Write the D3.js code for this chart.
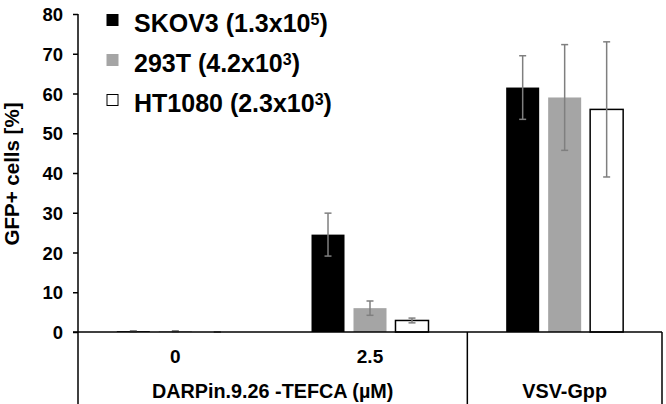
<!DOCTYPE html>
<html>
<head>
<meta charset="utf-8">
<script src="https://cdn.jsdelivr.net/npm/d3@7"></script>
<style>
  html, body { margin: 0; padding: 0; background: #fff; }
  svg { display: block; }
  text { font-family: "Liberation Sans", Arial, sans-serif; font-weight: bold; fill: #000; }
</style>
</head>
<body>
<svg id="chart" width="666" height="404"></svg>
<script>
// ---- data ----
const categories = ["0", "2.5", "VSV-Gpp"];
const categoryLabels = ["0", "2.5", ""];
const groupLabels = ["DARPin.9.26 -TEFCA (µM)", "VSV-Gpp"];
const groupSpans = [2, 1];
const seriesNames = ["SKOV3", "293T", "HT1080"];
const seriesTiters = [["1.3x10", "5"], ["4.2x10", "3"], ["2.3x10", "3"]];
const skov3 = [0.2, 24.5, 61.5];
const skov3Err = [0.1, 5.4, 8.0];
const t293 = [0.2, 6.0, 59.0];
const t293Err = [0.1, 1.8, 13.3];
const ht1080 = [0.0, 2.9, 56.0];
const ht1080Err = [0.0, 0.6, 17.0];
const yTicks = [0, 10, 20, 30, 40, 50, 60, 70, 80];
const yTitle = "GFP+ cells [%]";

const seriesValues = [skov3, t293, ht1080];
const seriesErrors = [skov3Err, t293Err, ht1080Err];
const fills = ["#000000", "#a5a5a5", "#ffffff"];
const strokes = ["#000000", "#a5a5a5", "#000000"];

const svg = d3.select("#chart");
const mLeft = 78, mRight = 662, mTop = 14, zeroY = 332, mBottom = 404;

const x0 = d3.scaleBand().domain(categories).range([mLeft, mRight]).padding(0);
const x1 = d3.scaleBand().domain(seriesNames).range([0, x0.bandwidth()])
  .paddingInner(0.214).paddingOuter(0.925);
const y = d3.scaleLinear().domain([0, 80]).range([zeroY, mTop]);

// bars
seriesNames.forEach((s, si) => {
  const g = svg.append("g");
  g.selectAll("rect").data(categories).join("rect")
    .attr("x", (c) => x0(c) + x1(s))
    .attr("y", (c, i) => y(seriesValues[si][i]))
    .attr("width", x1.bandwidth())
    .attr("height", (c, i) => y(0) - y(seriesValues[si][i]))
    .attr("fill", fills[si])
    .attr("stroke", strokes[si])
    .attr("stroke-width", si === 2 ? 1.5 : 0);
});

// error bars
seriesNames.forEach((s, si) => {
  categories.forEach((c, i) => {
    const v = seriesValues[si][i], e = seriesErrors[si][i];
    const cx = x0(c) + x1(s) + x1.bandwidth() / 2;
    const g = svg.append("g").attr("stroke", "#7f7f7f").attr("stroke-width", 1.5);
    g.append("line").attr("x1", cx).attr("x2", cx).attr("y1", y(v + e)).attr("y2", y(Math.max(0, v - e)));
    [v + e, v - e].forEach(t => {
      g.append("line").attr("x1", cx - 3.5).attr("x2", cx + 3.5).attr("y1", y(t)).attr("y2", y(t));
    });
  });
});

// y axis
const yAxis = d3.axisLeft(y).tickValues(yTicks).tickSize(5).tickPadding(10).tickFormat(d3.format("d"));
const ya = svg.append("g").attr("transform", `translate(${mLeft},0)`).call(yAxis);
ya.select(".domain").remove();
ya.selectAll(".tick line").attr("stroke", "#000").attr("stroke-width", 1.5);
ya.selectAll(".tick text").style("font-size", "18.5px").attr("dy", "0.36em");
svg.append("line").attr("x1", mLeft).attr("x2", mLeft).attr("y1", mTop).attr("y2", mBottom)
  .attr("stroke", "#000").attr("stroke-width", 1.5);

// x axis baseline
svg.append("line").attr("x1", mLeft - 5).attr("x2", mRight).attr("y1", zeroY).attr("y2", zeroY)
  .attr("stroke", "#000").attr("stroke-width", 1.5);

// category labels
const xAxis = d3.axisBottom(x0).tickSize(0).tickPadding(0).tickFormat((d, i) => categoryLabels[i]);
const xa = svg.append("g").attr("transform", `translate(0,${zeroY})`).call(xAxis);
xa.select(".domain").remove();
xa.selectAll(".tick text").style("font-size", "19px").attr("y", 31).attr("dy", 0);

// group labels and dividers
let idx = 0;
const dividers = [];
groupLabels.forEach((gl, gi) => {
  const start = x0(categories[idx]);
  const endCat = categories[idx + groupSpans[gi] - 1];
  const end = x0(endCat) + x0.bandwidth();
  svg.append("text").attr("x", (start + end) / 2).attr("y", 398)
    .attr("text-anchor", "middle").style("font-size", "19.8px").text(gl);
  dividers.push(end);
  idx += groupSpans[gi];
});
dividers.forEach(dx => {
  svg.append("line").attr("x1", dx).attr("x2", dx).attr("y1", zeroY).attr("y2", mBottom)
    .attr("stroke", "#000").attr("stroke-width", 1.5);
});

// y title
svg.append("text").attr("transform", `translate(18.5,174) rotate(-90)`)
  .attr("text-anchor", "middle").style("font-size", "20.5px").text(yTitle);

// legend
const legend = svg.append("g");
seriesNames.forEach((s, si) => {
  const by = 32 + si * 40;
  legend.append("rect").attr("x", 107).attr("y", by - 17.5).attr("width", 11).attr("height", 11)
    .attr("fill", fills[si]).attr("stroke", si === 2 ? "#000" : fills[si]).attr("stroke-width", 1);
  const t = legend.append("text").attr("x", 134).attr("y", by).style("font-size", "25px");
  t.append("tspan").text(`${s} (${seriesTiters[si][0]}`);
  t.append("tspan").attr("dy", -7.5).style("font-size", "16px").text(seriesTiters[si][1]);
  t.append("tspan").attr("dy", 7.5).text(")");
});
</script>
</body>
</html>
